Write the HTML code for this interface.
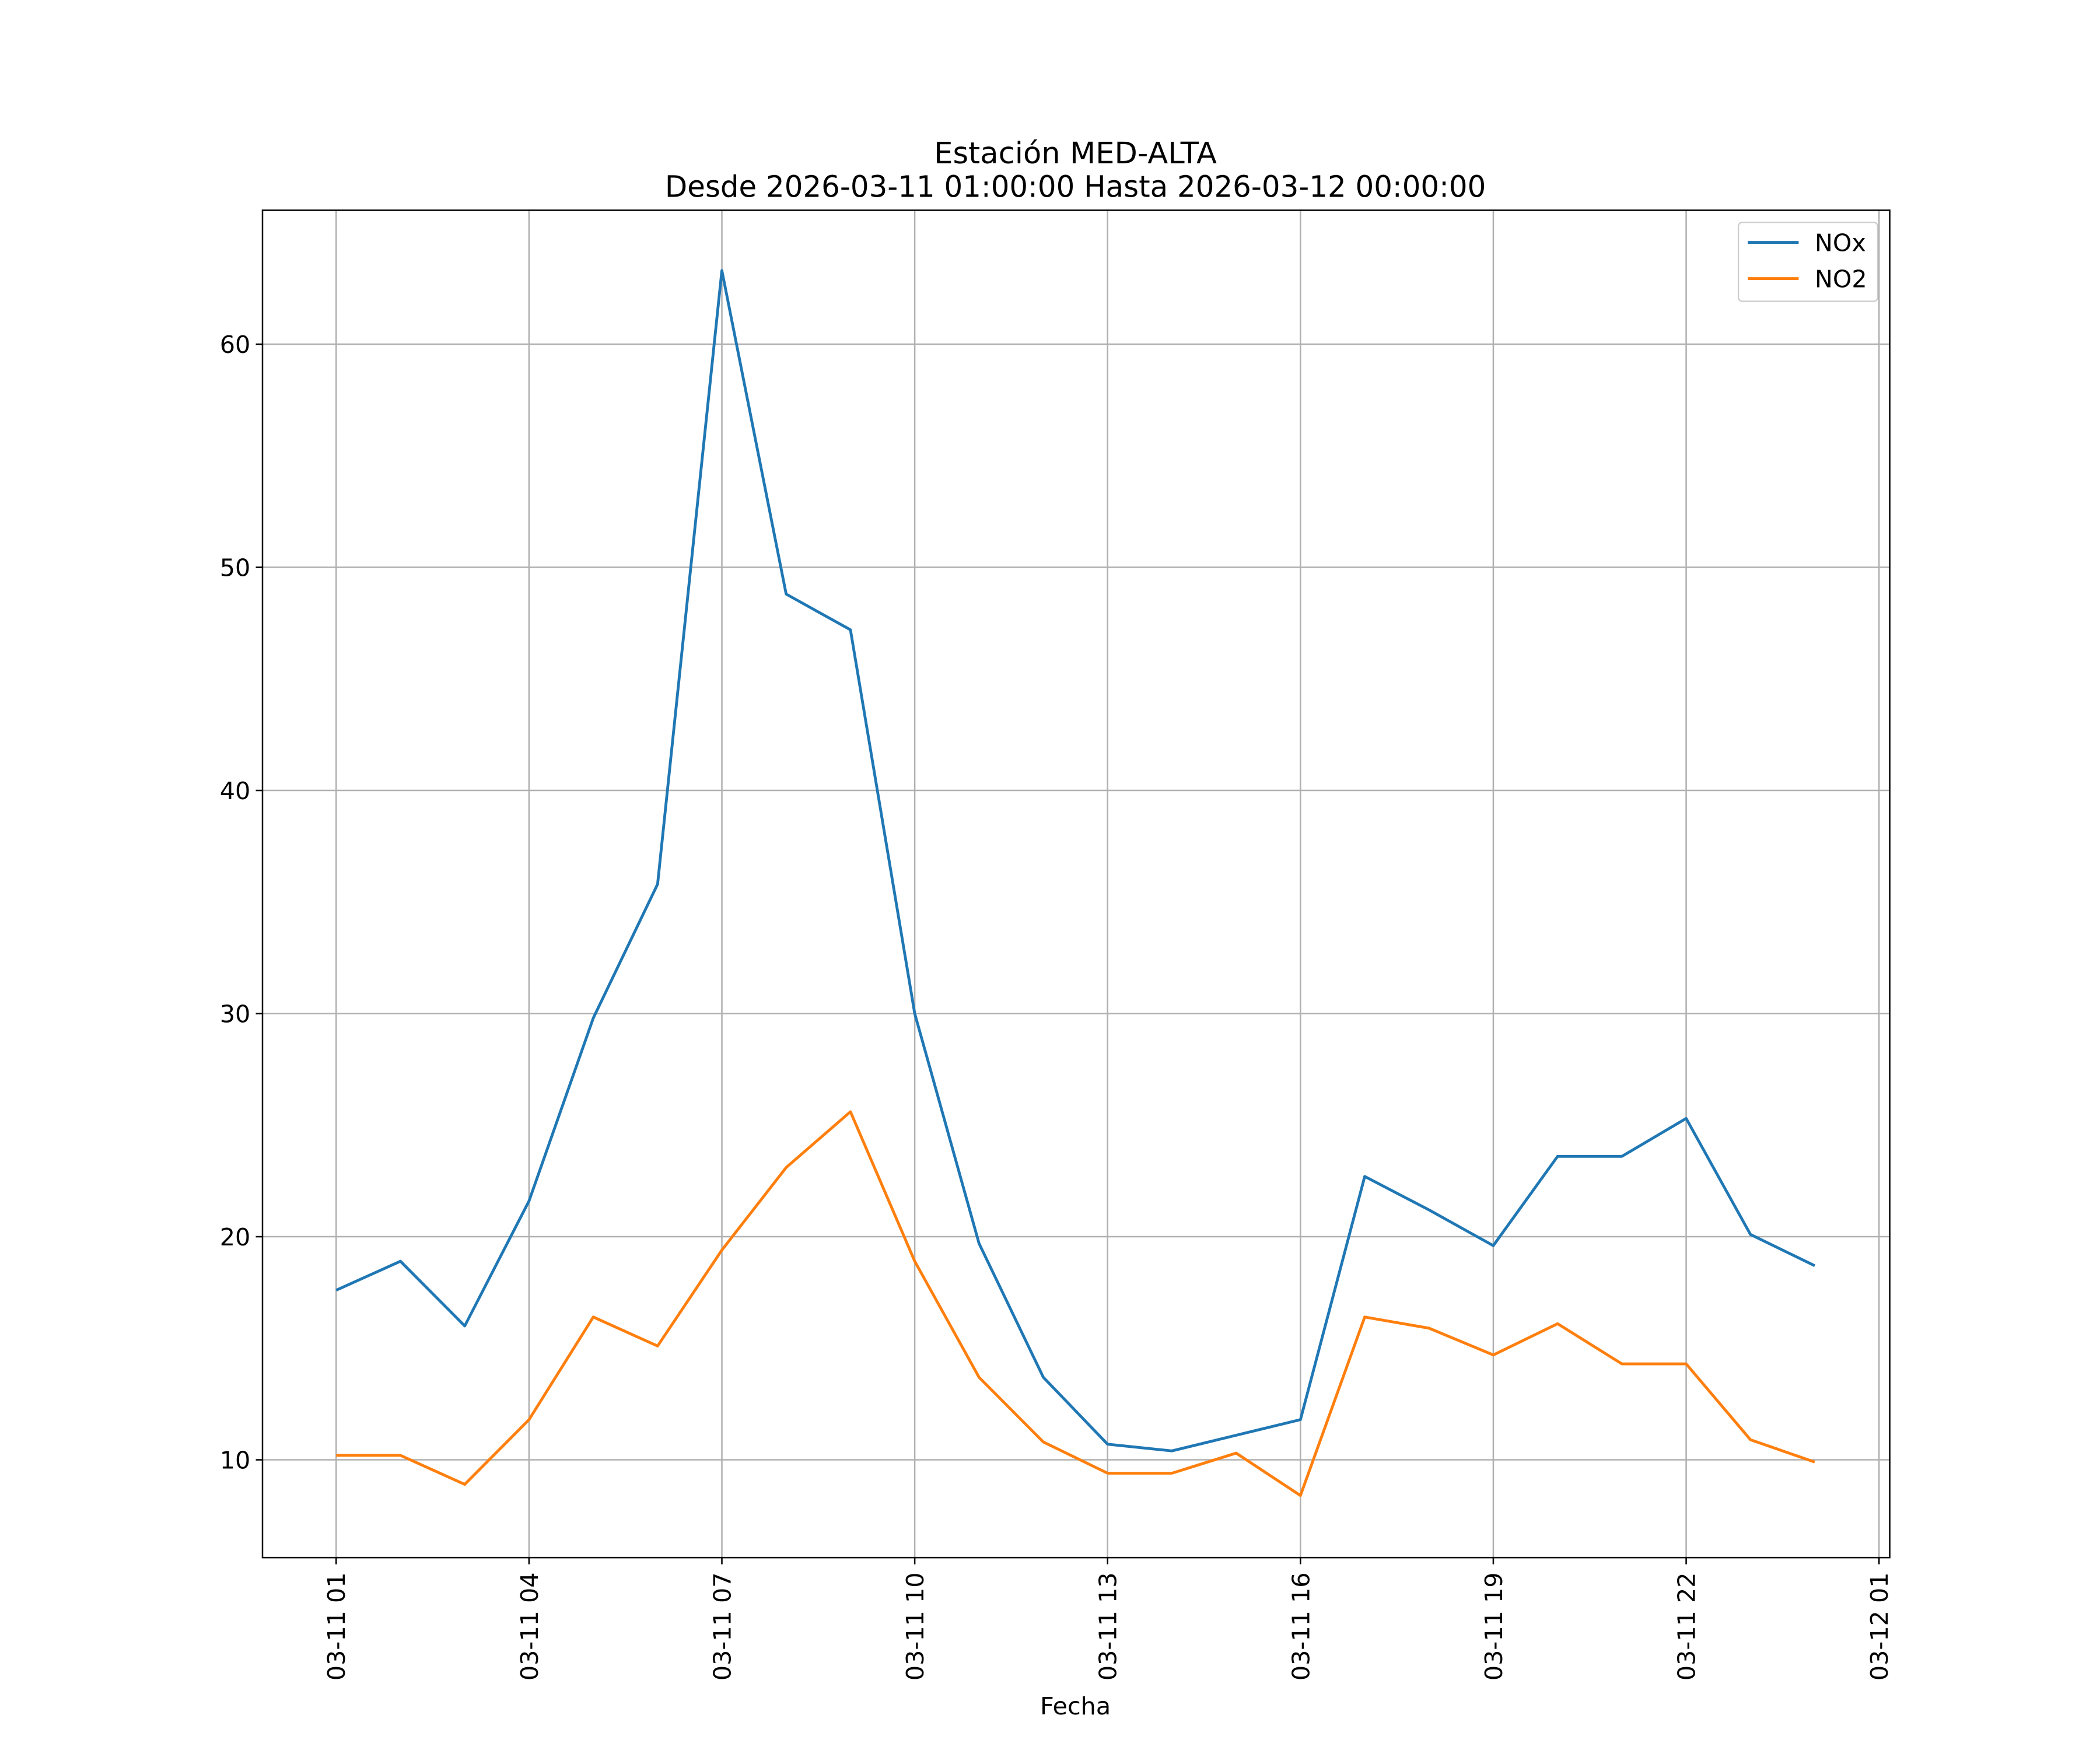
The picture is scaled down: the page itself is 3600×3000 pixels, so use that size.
<!DOCTYPE html>
<html><head><meta charset="utf-8"><style>
html,body{margin:0;padding:0;background:#fff;}
svg{display:block;font-family:"DejaVu Sans","Liberation Sans",sans-serif;}
</style></head><body>
<svg id="chart" width="3600" height="3000" viewBox="0 0 1568 1306.67" preserveAspectRatio="none" xmlns="http://www.w3.org/2000/svg">
<rect width="1568" height="1306.67" fill="#fff"/>
<text x="803" y="122" font-size="22.3" text-anchor="middle">Estación MED-ALTA</text>
<text x="803" y="147" font-size="22.3" text-anchor="middle" textLength="613" lengthAdjust="spacingAndGlyphs">Desde 2026-03-11 01:00:00 Hasta 2026-03-12 00:00:00</text>
<g id="grid"></g>
<g id="series"></g>
<rect x="196" y="157" width="1215" height="1006" fill="none" stroke="#000" stroke-width="1.1"/>
<g id="axes"></g>
<text x="803" y="1280" font-size="18" text-anchor="middle">Fecha</text>
<g>
<rect x="1298" y="166" width="104" height="59" rx="3" fill="#fff" fill-opacity="0.8" stroke="#ccc" stroke-width="1"/>
<line x1="1305" y1="181" x2="1343" y2="181" stroke="#1f77b4" stroke-width="2.1"/>
<text x="1355" y="187.5" font-size="18">NOx</text>
<line x1="1305" y1="208" x2="1343" y2="208" stroke="#ff7f0e" stroke-width="2.1"/>
<text x="1355" y="214.5" font-size="18">NO2</text>
</g>
</svg>
<script>
const hours = [1,2,3,4,5,6,7,8,9,10,11,12,13,14,15,16,17,18,19,20,21,22,23,24];
const noxValues = [17.6,18.9,16.0,21.6,29.8,35.8,63.3,48.8,47.2,30.0,19.7,13.7,10.7,10.4,11.1,11.8,22.7,21.2,19.6,23.6,23.6,25.3,20.1,18.7];
const no2Values = [10.2,10.2,8.9,11.8,16.4,15.1,19.4,23.1,25.6,18.9,13.7,10.8,9.4,9.4,10.3,8.4,16.4,15.9,14.7,16.1,14.3,14.3,10.9,9.9];
const xTickHours = [1,4,7,10,13,16,19,22,25];
const xTickLabels = ["03-11 01","03-11 04","03-11 07","03-11 10","03-11 13","03-11 16","03-11 19","03-11 22","03-12 01"];
const yTicks = [10,20,30,40,50,60];

const NS = "http://www.w3.org/2000/svg";
const L=196,R=1411,T=157,B=1163;
function xs(h){return 251 + (h-1)*48;}
function ys(v){return 1090 - (v-10)*(833/50);}
function mk(tag, attrs, parent){const e=document.createElementNS(NS,tag);for(const k in attrs)e.setAttribute(k,attrs[k]);parent.appendChild(e);return e;}
const grid=document.getElementById('grid'), axes=document.getElementById('axes'), series=document.getElementById('series');

xTickHours.forEach((h,i)=>{
  const x=xs(h);
  if(x<R){
    const g=mk('line',{x1:x,y1:T,x2:x,y2:B,stroke:'#b0b0b0','stroke-width':1.1},grid);
    
    
  }
  const t=mk('line',{x1:x,y1:B,x2:x,y2:B+5,stroke:'#000','stroke-width':1.1},axes);
  
  
  const lb=mk('text',{x:0,y:0,'font-size':18,'text-anchor':'end',transform:`translate(${x+6.5},${B+11}) rotate(-90)`},axes);
  lb.textContent=xTickLabels[i];
  
  
});
yTicks.forEach(v=>{
  const y=ys(v);
  const g=mk('line',{x1:L,y1:y,x2:R,y2:y,stroke:'#b0b0b0','stroke-width':1.1},grid);
  
  
  const t=mk('line',{x1:L-5,y1:y,x2:L,y2:y,stroke:'#000','stroke-width':1.1},axes);
  
  
  const lb=mk('text',{x:L-9,y:y+6.5,'font-size':18,'text-anchor':'end'},axes);
  lb.textContent=v;
  
  
});
function draw(vals,color,name){
  const pts=vals.map((v,i)=>xs(hours[i])+','+ys(v)).join(' ');
  const p=mk('polyline',{points:pts,fill:'none',stroke:color,'stroke-width':2.1,'stroke-linejoin':'round'},series);
  
  
}
draw(noxValues,'#1f77b4','nox-line');
draw(no2Values,'#ff7f0e','no2-line');
</script>
</body></html>
